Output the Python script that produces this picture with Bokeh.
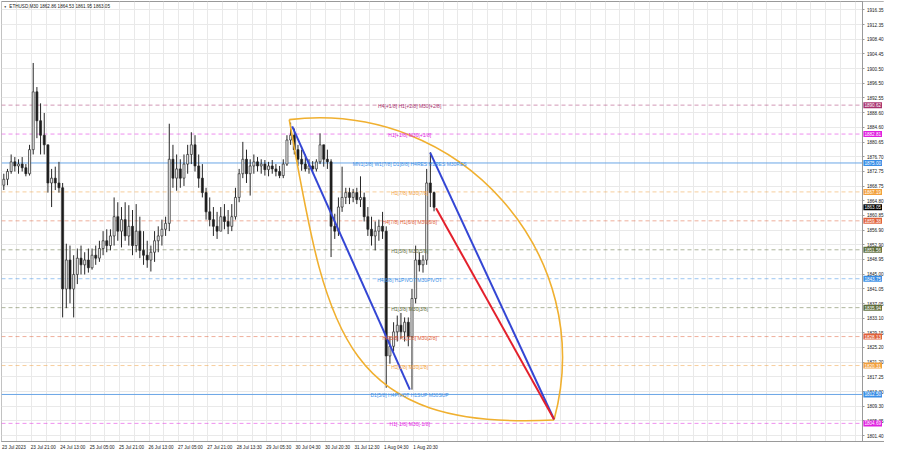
from bokeh.plotting import figure
from bokeh.models import (FixedTicker, Label, ColumnDataSource, Range1d, NumeralTickFormatter,
                          LinearAxis)
from bokeh.core.properties import value
from bokeh.embed import file_html
from bokeh.resources import INLINE

# ---------------- data (ETHUSD M30, 4 bars per drawn candle) ----------------
opens = [1869.0, 1870.6, 1872.7, 1875.3, 1874.2, 1874.7, 1873.7, 1872.1, 1878.6, 1894.2,
         1886.4, 1882.5, 1879.9, 1869.6, 1870.9, 1869.6, 1868.3, 1841.0, 1848.8, 1841.0,
         1844.9, 1849.3, 1847.5, 1848.8, 1846.7, 1850.1, 1849.3, 1851.9, 1854.0, 1852.7,
         1855.3, 1860.5, 1856.6, 1859.7, 1855.3, 1857.9, 1852.7, 1856.6, 1851.4, 1850.1,
         1848.8, 1850.9, 1854.0, 1855.3, 1857.1, 1858.7, 1876.0, 1870.9, 1873.4, 1870.9,
         1874.7, 1877.3, 1879.9, 1874.2, 1870.9, 1867.0, 1861.8, 1859.7, 1857.9, 1856.6,
         1860.5, 1859.2, 1857.9, 1860.5, 1865.7, 1872.1, 1876.0, 1872.1, 1874.2, 1875.3,
         1874.2, 1874.7, 1873.2, 1874.2, 1873.4, 1872.7, 1871.6, 1874.7, 1881.2, 1882.5,
         1878.6, 1876.0, 1874.7, 1873.4, 1874.2, 1873.4, 1875.3, 1879.9, 1876.0, 1875.3,
         1857.9, 1856.6, 1863.1, 1865.7, 1867.0, 1865.7, 1867.0, 1865.1, 1865.7, 1860.5,
         1857.1, 1855.3, 1856.6, 1857.9, 1856.6, 1822.9, 1825.5, 1829.4, 1831.2, 1829.4,
         1832.0, 1828.1, 1838.4, 1848.8, 1847.5, 1848.8, 1869.6, 1867.0]
highs = [1872.1, 1873.4, 1877.3, 1876.6, 1876.0, 1876.6, 1874.7, 1879.9, 1902.0, 1895.5,
         1891.1, 1888.5, 1879.9, 1873.4, 1874.0, 1875.3, 1869.6, 1853.2, 1852.7, 1850.1,
         1851.9, 1852.7, 1850.9, 1851.9, 1851.9, 1852.7, 1854.0, 1856.6, 1857.1, 1857.1,
         1865.7, 1864.4, 1863.1, 1864.4, 1863.6, 1862.3, 1863.9, 1860.5, 1856.6, 1854.0,
         1852.7, 1856.6, 1857.9, 1859.7, 1860.5, 1885.6, 1879.9, 1877.3, 1876.0, 1877.3,
         1879.9, 1883.3, 1882.5, 1877.3, 1874.7, 1868.3, 1865.7, 1863.1, 1861.8, 1863.1,
         1863.9, 1862.3, 1863.9, 1868.3, 1873.4, 1880.7, 1878.6, 1876.0, 1877.3, 1876.6,
         1876.0, 1875.8, 1875.3, 1875.8, 1874.7, 1874.2, 1876.0, 1882.5, 1885.9, 1884.3,
         1879.9, 1878.6, 1877.3, 1876.0, 1875.5, 1876.0, 1883.0, 1879.9, 1878.6, 1876.0,
         1861.3, 1865.7, 1874.0, 1868.3, 1868.3, 1868.0, 1868.3, 1871.4, 1867.0, 1863.1,
         1860.5, 1859.2, 1859.7, 1861.8, 1857.9, 1828.1, 1832.0, 1833.8, 1834.5, 1833.3,
         1833.3, 1841.0, 1852.7, 1850.9, 1850.1, 1873.4, 1877.9, 1867.3]
lows = [1867.7, 1869.0, 1872.1, 1872.7, 1872.1, 1872.7, 1871.4, 1871.6, 1877.3, 1881.7,
        1877.3, 1877.3, 1867.0, 1863.1, 1867.7, 1867.0, 1833.3, 1835.8, 1837.1, 1833.3,
        1842.3, 1844.9, 1844.9, 1845.4, 1846.2, 1847.5, 1848.3, 1850.1, 1850.9, 1851.4,
        1852.7, 1854.0, 1852.2, 1854.0, 1852.7, 1850.1, 1850.9, 1849.3, 1847.5, 1846.7,
        1845.7, 1848.3, 1850.9, 1852.7, 1855.3, 1856.6, 1868.3, 1867.5, 1868.3, 1868.8,
        1872.1, 1874.7, 1872.7, 1868.3, 1865.7, 1859.7, 1857.9, 1855.3, 1854.5, 1856.6,
        1857.1, 1855.8, 1856.6, 1859.7, 1864.4, 1870.9, 1869.6, 1866.2, 1872.1, 1872.7,
        1872.1, 1871.6, 1871.4, 1872.1, 1871.4, 1870.9, 1870.9, 1874.2, 1879.9, 1877.3,
        1874.2, 1872.9, 1872.7, 1872.1, 1872.7, 1872.7, 1874.7, 1874.0, 1873.4, 1849.6,
        1854.5, 1855.3, 1861.8, 1863.9, 1863.9, 1864.4, 1863.9, 1863.1, 1859.2, 1855.3,
        1852.7, 1851.4, 1854.0, 1854.5, 1814.3, 1820.8, 1824.2, 1826.8, 1827.5, 1826.8,
        1825.5, 1813.8, 1837.1, 1845.7, 1845.4, 1847.5, 1863.1, 1861.95]
closes = [1870.6, 1872.7, 1875.3, 1874.2, 1874.7, 1873.7, 1872.1, 1878.6, 1894.2, 1886.4,
          1882.5, 1879.9, 1869.6, 1870.9, 1869.6, 1868.3, 1841.0, 1848.8, 1841.0, 1844.9,
          1849.3, 1847.5, 1848.8, 1846.7, 1850.1, 1849.3, 1851.9, 1854.0, 1852.7, 1855.3,
          1860.5, 1856.6, 1859.7, 1855.3, 1857.9, 1852.7, 1856.6, 1851.4, 1850.1, 1848.8,
          1850.9, 1854.0, 1855.3, 1857.1, 1858.7, 1876.0, 1870.9, 1873.4, 1870.9, 1874.7,
          1877.3, 1879.9, 1874.2, 1870.9, 1867.0, 1861.8, 1859.7, 1857.9, 1856.6, 1860.5,
          1859.2, 1857.9, 1860.5, 1865.7, 1872.1, 1876.0, 1872.1, 1874.2, 1875.3, 1874.2,
          1874.7, 1873.2, 1874.2, 1873.4, 1872.7, 1871.6, 1874.7, 1881.2, 1882.5, 1878.6,
          1876.0, 1874.7, 1873.4, 1874.2, 1873.4, 1875.3, 1879.9, 1876.0, 1875.3, 1857.9,
          1856.6, 1863.1, 1865.7, 1867.0, 1865.7, 1867.0, 1865.1, 1865.7, 1860.5, 1857.1,
          1855.3, 1856.6, 1857.9, 1856.6, 1822.9, 1825.5, 1829.4, 1831.2, 1829.4, 1832.0,
          1828.1, 1838.4, 1848.8, 1847.5, 1848.8, 1869.6, 1867.0, 1863.05]
BARS_PER_CANDLE = 4

date_tick_bars = [0, 32, 64, 96, 128, 160, 192, 224, 256, 288, 320, 352, 384, 416, 448]
date_labels = ["23 Jul 2023", "23 Jul 21:00", "24 Jul 13:00", "25 Jul 05:00", "25 Jul 21:00",
               "26 Jul 13:00", "27 Jul 05:00", "27 Jul 21:00", "28 Jul 13:30", "29 Jul 05:30",
               "30 Jul 04:30", "30 Jul 20:30", "31 Jul 12:30", "1 Aug 04:30", "1 Aug 20:30"]
price_ticks = [1916.35, 1912.35, 1908.40, 1904.45, 1900.50, 1896.50, 1892.55, 1888.60, 1884.60,
               1880.65, 1876.70, 1872.75, 1868.75, 1864.80, 1860.85, 1856.90, 1852.90, 1848.95,
               1845.00, 1841.05, 1837.05, 1833.10, 1829.15, 1825.20, 1821.20, 1817.25, 1813.30,
               1809.30, 1805.35, 1801.40]

level_values = [1890.62, 1882.81, 1875.00, 1867.19, 1859.38, 1851.56, 1843.75, 1835.94,
                1828.13, 1820.31, 1812.50, 1804.69]
level_texts = ["H4[+1/8] H1[+2/8] M30[+2/8]", "H1[+1/8] M30[+1/8]",
               "MN1[3/8] W1[7/8] D1[8/8] H4RES H1RES M30RES", "H1[7/8] M30[7/8]",
               "H4[7/8] H1[6/8] M30[6/8]", "H1[5/8] M30[5/8]", "H4[6/8] H1PIVOT M30PIVOT",
               "H1[3/8] M30[3/8]", "H4[5/8] H1[2/8] M30[2/8]", "H1[1/8] M30[1/8]",
               "D1[5/8] H4PIVOT H1SUP M30SUP", "H1[-1/8] M30[-1/8]"]
level_colors = ["#a8326e", "#e020e0", "#3a8ee6", "#f2a03c", "#e0603a", "#5f6e3c",
                "#3a8ee6", "#5f6e3c", "#e0603a", "#f2a03c", "#3a8ee6", "#e020e0"]
level_solid = [False, False, True, False, False, False, False, False, False, False, True, False]
current_price = 1863.05
title_text = "ETHUSD,M30  1862.86 1864.53 1861.95 1863.05"

# drawing objects: anchor points (bar index, price)
lens_start = (312.5, 1886.7)
lens_end = (600.5, 1805.6)
upper_arc_ctrl = [(498.9, 1892.2), (649.1, 1849.9)]
lower_arc_ctrl = [(353.4, 1830.5), (365.9, 1802.7)]
blue_line_1 = [(315.7, 1884.9), (443.7, 1813.8)]
blue_line_2 = [(465.8, 1877.8), (600.5, 1805.8)]
red_line = [(472.2, 1862.8), (600.5, 1805.8)]

FONT = "Liberation Sans"
X0, X_SCALE_END, X_END = -0.5, 936.5, 960.0      # chart area / price-scale strip
Y0, Y1 = 1799.8, 1918.6
DATE_LABEL_SHIFT = 13                             # left-align date labels on their bar

# ---------------- figure ----------------
p = figure(width=884, height=452, x_range=Range1d(X0, X_END), y_range=Range1d(Y0, Y1),
           y_axis_location=None, toolbar_location=None, output_backend="svg",
           min_border_left=1, min_border_top=1, min_border_bottom=0, min_border_right=0)
p.background_fill_color = "white"
p.border_fill_color = "white"
p.outline_line_color = "#9a9a9a"

# grid
p.xgrid.ticker = FixedTicker(ticks=list(range(0, 937, 16)))
p.xgrid.grid_line_color = "#e9e9e9"
p.ygrid.ticker = FixedTicker(ticks=price_ticks)
p.ygrid.grid_line_color = "#e9e9e9"

# white strip for the price scale
p.quad(left=[X_SCALE_END], right=[X_END], bottom=[Y0], top=[Y1],
       fill_color="white", line_color=None)

# price axis, placed at the chart's right edge
yax = LinearAxis(fixed_location=X_SCALE_END)
yax.ticker = FixedTicker(ticks=price_ticks)
yax.formatter = NumeralTickFormatter(format="0.00")
yax.major_label_text_font = FONT
yax.major_label_text_font_size = "4.6px"
yax.major_label_text_color = "#202020"
yax.axis_line_color = "#9a9a9a"
yax.major_tick_line_color = "#9a9a9a"
yax.major_tick_out = 2
yax.major_tick_in = 0
yax.minor_tick_line_color = None
yax.major_label_standoff = 2
p.add_layout(yax, "right")

# date axis
p.xaxis.ticker = FixedTicker(ticks=[b + DATE_LABEL_SHIFT for b in date_tick_bars])
p.xaxis.major_label_overrides = {b + DATE_LABEL_SHIFT: t for b, t in zip(date_tick_bars, date_labels)}
p.xaxis.major_label_text_font = FONT
p.xaxis.major_label_text_font_size = "4.6px"
p.xaxis.major_label_text_color = "#202020"
p.xaxis.axis_line_color = "#9a9a9a"
p.xaxis.major_tick_out = 0
p.xaxis.major_tick_in = 0
p.xaxis.minor_tick_line_color = None
p.xaxis.major_label_standoff = 3

# level lines
for v, c, solid in zip(level_values, level_colors, level_solid):
    if solid:
        p.line(x=[X0, X_SCALE_END], y=[v, v], line_color="#6aa6e6", line_width=1)
    else:
        p.line(x=[X0, X_SCALE_END], y=[v, v], line_color=c, line_alpha=0.5, line_width=1,
               line_dash="4 3")

# candles
xs = [BARS_PER_CANDLE * i + BARS_PER_CANDLE / 2 for i in range(len(opens))]
tops = [max(o, c) for o, c in zip(opens, closes)]
bots = [min(o, c) for o, c in zip(opens, closes)]
fills = ["#f4f4f4" if c >= o else "#1a1a1a" for o, c in zip(opens, closes)]
src = ColumnDataSource(dict(x=xs, h=highs, l=lows, t=tops, b=bots, f=fills))
p.segment(x0="x", y0="l", x1="x", y1="h", source=src, line_color="#262626", line_width=1)
p.vbar(x="x", width=2.2, top="t", bottom="b", fill_color="f", line_color="#262626",
       line_width=0.7, source=src)

# lens (two arcs)
p.bezier(x0=[lens_start[0]], y0=[lens_start[1]], x1=[lens_end[0]], y1=[lens_end[1]],
         cx0=[upper_arc_ctrl[0][0]], cy0=[upper_arc_ctrl[0][1]],
         cx1=[upper_arc_ctrl[1][0]], cy1=[upper_arc_ctrl[1][1]],
         line_color="#f0b030", line_width=1.6)
p.bezier(x0=[lens_start[0]], y0=[lens_start[1]], x1=[lens_end[0]], y1=[lens_end[1]],
         cx0=[lower_arc_ctrl[0][0]], cy0=[lower_arc_ctrl[0][1]],
         cx1=[lower_arc_ctrl[1][0]], cy1=[lower_arc_ctrl[1][1]],
         line_color="#f0b030", line_width=1.6)

# trend lines
for seg, col in ((blue_line_1, "#3446d4"), (blue_line_2, "#3446d4"), (red_line, "#e3202c")):
    p.line(x=[seg[0][0], seg[1][0]], y=[seg[0][1], seg[1][1]], line_color=col, line_width=2)

# level texts
lsrc = ColumnDataSource(dict(x=[443.5] * len(level_values), y=level_values,
                             text=level_texts, color=level_colors))
p.text(x="x", y="y", text="text", text_color="color", source=lsrc,
       text_font=value(FONT), text_font_size=value("5px"),
       text_align="center", text_baseline="middle", y_offset=1)

# price tags on the price scale
for v, c in list(zip(level_values, level_colors)) + [(current_price, "#000000")]:
    p.add_layout(Label(x=X_SCALE_END, y=v, text=f"{v:.2f}", text_color="white",
                       text_font=FONT, text_font_size="4.6px", text_baseline="middle",
                       text_align="left", background_fill_color=c, padding=1, x_offset=0.5))

# title
p.add_layout(Label(x=2, y=1917.3, text="\u25bc", text_font_size="3px", text_color="#202020",
                   text_baseline="middle"))
p.add_layout(Label(x=8, y=1917.3, text=title_text, text_font=FONT, text_font_size="4.6px",
                   text_color="#202020", text_baseline="middle"))

open("out.html", "w").write(file_html(p, INLINE))
